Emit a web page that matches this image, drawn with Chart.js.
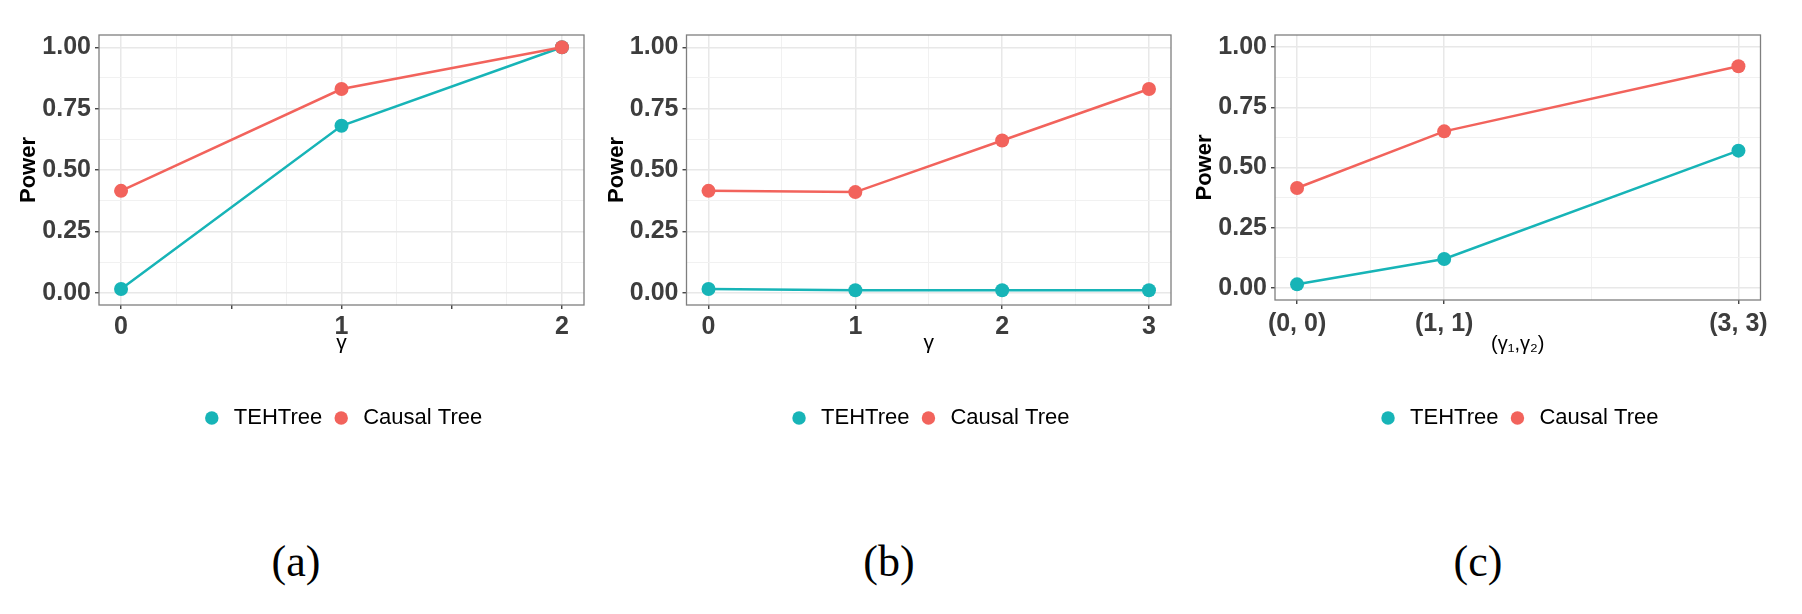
<!DOCTYPE html>
<html><head><meta charset="utf-8">
<script src="https://cdn.jsdelivr.net/npm/chart.js@4.4.1/dist/chart.umd.min.js"></script>
<style>
html,body{margin:0;padding:0;background:#fff;width:1802px;height:614px;overflow:hidden;position:relative;}
canvas{position:absolute;top:0;}
.cap{position:absolute;top:562px;font-family:"Liberation Serif","Times New Roman",serif;font-size:44px;line-height:1;color:#000;transform:translate(-50%,-50%);}
</style></head><body>
<canvas id="ca" width="600" height="440" style="left:0px"></canvas>
<canvas id="cb" width="600" height="440" style="left:588px"></canvas>
<canvas id="cc" width="600" height="440" style="left:1176px"></canvas>
<div class="cap" style="left:296px">(a)</div>
<div class="cap" style="left:889px">(b)</div>
<div class="cap" style="left:1478px">(c)</div>
<script>
// ---- data ----
const seriesNames = ['TEHTree', 'Causal Tree'];
const aX = [0, 1, 2];
const aTEH = [0.015, 0.68, 1.0];
const aCausal = [0.415, 0.83, 1.0];
const bX = [0, 1, 2, 3];
const bTEH = [0.015, 0.01, 0.01, 0.01];
const bCausal = [0.415, 0.41, 0.62, 0.83];
const cX = [0, 1, 3];
const cTEH = [0.015, 0.12, 0.57];
const cCausal = [0.415, 0.65, 0.92];
const yTickValues = [0, 0.25, 0.5, 0.75, 1];
const yTickLabels = ['0.00', '0.25', '0.50', '0.75', '1.00'];
const aXTickValues = [0, 0.5, 1, 1.5, 2];
const aXTickLabels = ['0', '', '1', '', '2'];
const bXTickValues = [0, 1, 2, 3];
const bXTickLabels = ['0', '1', '2', '3'];
const cXTickValues = [0, 1, 3];
const cXTickLabels = ['(0, 0)', '(1, 1)', '(3, 3)'];
const xTitles = ['γ', 'γ', '(γ₁,γ₂)'];
const yTitle = 'Power';

// ---- style ----
const TEAL = '#17b4b7', RED = '#f2635c';
const FONT = '"Liberation Sans", Arial, sans-serif';
Chart.defaults.font.family = FONT;

function withMinors(vals, labels) {
  const out = [];
  for (let i = 0; i < vals.length; i++) {
    out.push({value: vals[i], mj: true, lab: labels[i]});
    if (i < vals.length - 1) out.push({value: (vals[i] + vals[i + 1]) / 2, mj: false, lab: ''});
  }
  return out;
}
const panelBorder = {
  id: 'panelBorder',
  beforeDatasetsDraw(chart) {
    const {ctx, chartArea: a} = chart;
    ctx.save(); ctx.strokeStyle = '#7f7f7f'; ctx.lineWidth = 1.3;
    ctx.strokeRect(a.left, a.top, a.right - a.left, a.bottom - a.top);
    ctx.restore();
  }
};
function grid() {
  return {
    drawOnChartArea: true, drawTicks: true, tickLength: 4, tickWidth: 1.3,
    color: c => (c.tick && c.tick.mj) ? '#e8e8e8' : '#f1f1f1',
    lineWidth: c => (c.tick && c.tick.mj) ? 1.5 : 1,
    tickColor: c => (c.tick && c.tick.mj) ? '#333333' : 'rgba(0,0,0,0)'
  };
}
function makeChart(id, xs, teh, causal, xVals, xLabs, xMin, xMax, yAxisW, padRight, xAxisH, xTickPad, xTitle, xTitleSize, xTitlePad) {
  const xTicks = withMinors(xVals, xLabs);
  const yTicks = withMinors(yTickValues, yTickLabels);
  new Chart(document.getElementById(id), {
    type: 'line',
    data: {
      datasets: [
        {label: seriesNames[0], data: xs.map((x, i) => ({x, y: teh[i]})), borderColor: TEAL, backgroundColor: TEAL,
         pointBackgroundColor: TEAL, pointBorderWidth: 0, pointRadius: 7, borderWidth: 2.5, order: 2},
        {label: seriesNames[1], data: xs.map((x, i) => ({x, y: causal[i]})), borderColor: RED, backgroundColor: RED,
         pointBackgroundColor: RED, pointBorderWidth: 0, pointRadius: 7, borderWidth: 2.5, order: 1}
      ]
    },
    options: {
      responsive: false, animation: false, devicePixelRatio: 1, events: [],
      layout: {padding: {top: 35, right: padRight, left: 0, bottom: 1}},
      plugins: {
        tooltip: {enabled: false},
        legend: {
          position: 'bottom', fullSize: false,
          labels: {usePointStyle: true, pointStyle: 'circle', boxWidth: 24, boxHeight: 9.5, padding: 8,
                   color: '#000', font: {size: 22, family: FONT},
                   sort: (a, b) => a.datasetIndex - b.datasetIndex}
        }
      },
      scales: {
        x: {
          type: 'linear', min: xMin, max: xMax,
          afterBuildTicks: s => { s.ticks = xTicks.map(t => ({...t})); },
          afterFit: s => { s.height = xAxisH; },
          ticks: {autoSkip: false, maxRotation: 0, padding: xTickPad, color: '#3d3d3d',
                  font: {size: 25, weight: 'bold', family: FONT},
                  callback: (v, i, t) => t[i].lab},
          grid: grid(),
          border: {display: false},
          title: {display: true, text: xTitle, color: '#000', font: {size: xTitleSize, family: FONT},
                  padding: {top: 0, bottom: xTitlePad}}
        },
        y: {
          type: 'linear', min: -0.05, max: 1.05,
          afterBuildTicks: s => { s.ticks = yTicks.map(t => ({...t})); },
          afterFit: s => { s.width = yAxisW; },
          ticks: {autoSkip: false, padding: 4, color: '#3d3d3d',
                  font: {size: 25, weight: 'bold', family: FONT},
                  callback: (v, i, t) => t[i].lab},
          grid: grid(),
          border: {display: false},
          title: {display: true, text: yTitle, color: '#000', font: {size: 22, weight: 'bold', family: FONT},
                  padding: {top: 16, bottom: 0}}
        }
      }
    },
    plugins: [panelBorder]
  });
}
makeChart('ca', aX, aTEH, aCausal, aXTickValues, aXTickLabels, -0.1, 2.1, 99, 16, 94, 3, xTitles[0], 21, 43);
makeChart('cb', bX, bTEH, bCausal, bXTickValues, bXTickLabels, -0.15, 3.15, 98.5, 17, 94, 3, xTitles[1], 21, 43);
makeChart('cc', cX, cTEH, cCausal, cXTickValues, cXTickLabels, -0.15, 3.15, 99, 15.5, 99, 5, xTitles[2], 20, 43);
</script>
</body></html>
